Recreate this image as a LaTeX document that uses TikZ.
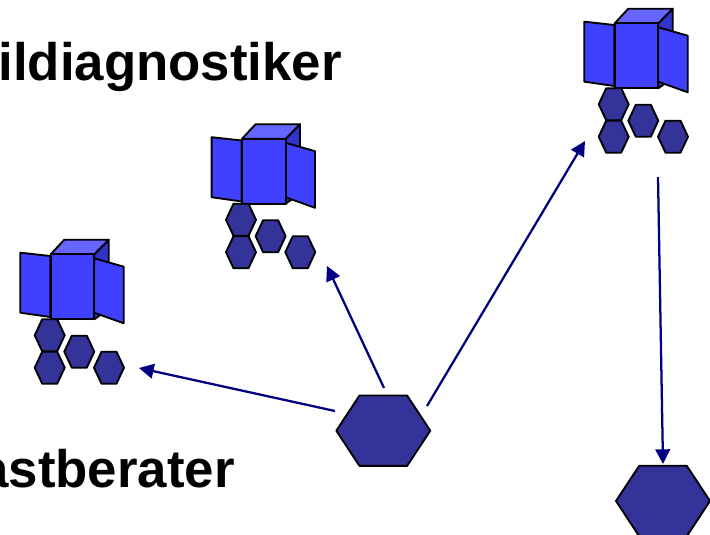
\documentclass[tikz,border=0pt]{standalone}
\usepackage{fontspec}
\setmainfont{Liberation Sans}
\usetikzlibrary{arrows.meta}
\definecolor{hexfill}{HTML}{333399}
\definecolor{boxfront}{HTML}{4040FF}
\definecolor{boxtop}{HTML}{6666FF}
\definecolor{boxside}{HTML}{3333CC}
\definecolor{arrowblue}{HTML}{000080}
\tikzset{
  outline/.style={draw=black,line width=1.4pt,line join=round},
  hexshape/.style={outline,fill=hexfill},
  link/.style={draw=arrowblue,line width=1.7pt,-{Triangle[length=11pt,width=11pt]},shorten >=0pt},
  caption/.style={font=\bfseries\fontsize{39.6}{44}\selectfont,text=black,inner sep=0pt},
  pics/hexa/.style args={#1/#2/#3}{code={
    \path[hexshape] (-#1,0)--(-#3,-#2)--(#3,-#2)--(#1,0)--(#3,#2)--(-#3,#2)--cycle;}},
  pics/unit/.style={code={
    % side and top of the cube
    \path[outline,fill=boxside] (658.3,23.3)--(672.7,8.7)--(672.7,78)--(658.3,88.3)--cycle;
    \path[outline,fill=boxtop] (614.7,23.3)--(628.3,8.7)--(672.7,8.7)--(658.3,23.3)--cycle;
    \path[outline,fill=boxfront] (584.3,21.7)--(614.3,25)--(614.3,86)--(584.3,81.7)--cycle;
    \path[outline,fill=boxfront] (658.3,27.3)--(687.7,35.7)--(687.7,92.3)--(658.3,81.7)--cycle;
    \path[outline,fill=boxfront] (614.7,23.3) rectangle (658.3,88.3);
    \pic at (613.7,104.3) {hexa=15/16/7.5};
    \pic at (613.7,136.7) {hexa=15/16/7.5};
    \pic at (643.3,120.7) {hexa=15/16/7.5};
    \pic at (673,136.7) {hexa=15/16/7.5};
  }}
}
\begin{document}
\begin{tikzpicture}[x=0.75pt,y=-0.75pt]
\useasboundingbox (0,0) rectangle (710,535);
\clip (0,0) rectangle (710,535);
\node[caption,anchor=base east] (titleone) at (342,80) {ildiagnostiker};
\node[caption,anchor=base east] (titletwo) at (235,487) {astberater};
\pic at (0,0) {unit};
\pic at (-372.7,115.5) {unit};
\pic at (-564,231) {unit};
\pic at (383.3,430.7) {hexa=47/35.2/23.8};
\pic at (663,501) {hexa=47/35.2/23.8};
\coordinate (hubA) at (335,411);
\coordinate (hubB) at (384,388);
\coordinate (hubC) at (427,406);
\coordinate (unitL) at (139,368);
\coordinate (unitM) at (327,266);
\coordinate (unitR) at (585,141);
\coordinate (unitRb) at (658,177);
\coordinate (hubD) at (663,464);
\draw[link] (hubA) -- (unitL);
\draw[link] (hubB) -- (unitM);
\draw[link] (hubC) -- (unitR);
\draw[link] (unitRb) -- (hubD);
\end{tikzpicture}
\end{document}
